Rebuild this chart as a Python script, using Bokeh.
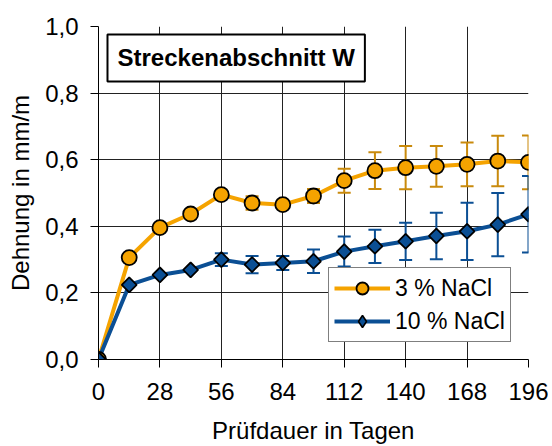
import math
from bokeh.plotting import figure
from bokeh.models import (ColumnDataSource, FixedTicker, CustomJSTickFormatter, Legend, LegendItem,
                          Label, Range1d)
from bokeh.embed import file_html
from bokeh.resources import INLINE

days = [0, 14, 28, 42, 56, 70, 84, 98, 112, 126, 140, 154, 168, 182, 196]
nacl3 = [0.0, 0.306, 0.396, 0.437, 0.495, 0.470, 0.465, 0.491, 0.537, 0.567, 0.576, 0.580, 0.586, 0.596, 0.592]
nacl3_err = [0.0, 0.0, 0.0, 0.0, 0.006, 0.020, 0.010, 0.021, 0.036, 0.055, 0.065, 0.061, 0.066, 0.076, 0.081]
nacl10 = [0.0, 0.224, 0.254, 0.269, 0.300, 0.285, 0.290, 0.295, 0.324, 0.340, 0.355, 0.371, 0.385, 0.405, 0.436]
nacl10_err = [0.0, 0.0, 0.0, 0.0, 0.019, 0.026, 0.021, 0.035, 0.045, 0.050, 0.056, 0.070, 0.086, 0.095, 0.115]
x_ticks = [0, 28, 56, 84, 112, 140, 168, 196]
y_ticks = [0.0, 0.2, 0.4, 0.6, 0.8, 1.0]

ORANGE = "#F5A300"
ORANGE_ERR = "#C98A0C"
BLUE = "#0B4F94"
FONT = "Liberation Sans"

p = figure(width=548, height=446, output_backend="svg", toolbar_location=None,
           x_range=Range1d(0, 196), y_range=Range1d(0, 1.0),
           min_border_left=98, min_border_right=20, min_border_top=26, min_border_bottom=84)
p.outline_line_color = None
p.background_fill_color = "white"

for ax in (p.xaxis, p.yaxis):
    ax.axis_line_color = "black"
    ax.major_tick_line_color = "black"
    ax.major_tick_out = 8
    ax.major_tick_in = 0
    ax.minor_tick_out = 0
    ax.minor_tick_in = 0
    ax.major_label_text_font = FONT
    ax.major_label_text_font_size = "24px"
    ax.major_label_text_color = "black"
    ax.axis_label_text_font = FONT
    ax.axis_label_text_font_size = "24px"
    ax.axis_label_text_font_style = "normal"
    ax.axis_label_text_color = "black"

p.xaxis.ticker = FixedTicker(ticks=x_ticks)
p.yaxis.ticker = FixedTicker(ticks=y_ticks)
p.yaxis.formatter = CustomJSTickFormatter(code="return tick.toFixed(1).replace('.', ',');")
p.xaxis.axis_label = "Prüfdauer in Tagen"
p.yaxis.axis_label = "Dehnung in mm/m"
p.xaxis.major_label_standoff = 15
p.yaxis.major_label_standoff = 12
p.xaxis.axis_label_standoff = 14
p.yaxis.axis_label_standoff = 8

p.xgrid.grid_line_color = "#222222"
p.ygrid.grid_line_color = "#222222"
p.xgrid.grid_line_width = 1
p.ygrid.grid_line_width = 1

src3 = ColumnDataSource(dict(x=days, y=nacl3,
                             lo=[v - e for v, e in zip(nacl3, nacl3_err)],
                             hi=[v + e for v, e in zip(nacl3, nacl3_err)]))
src10 = ColumnDataSource(dict(x=days, y=nacl10,
                              lo=[v - e for v, e in zip(nacl10, nacl10_err)],
                              hi=[v + e for v, e in zip(nacl10, nacl10_err)]))

l3 = p.line("x", "y", source=src3, line_color=ORANGE, line_width=4)
l10 = p.line("x", "y", source=src10, line_color=BLUE, line_width=4)

for src, col in ((src3, ORANGE_ERR), (src10, BLUE)):
    p.segment(x0="x", y0="lo", x1="x", y1="hi", source=src, line_color=col, line_width=2)
    p.scatter("x", "lo", source=src, marker="dash", size=13, line_color=col, line_width=2)
    p.scatter("x", "hi", source=src, marker="dash", size=13, line_color=col, line_width=2)

m3 = p.scatter("x", "y", source=src3, marker="circle", size=15, fill_color=ORANGE,
               line_color="black", line_width=1.8)
# diamond glyph used for the legend symbol (legend ignores marker rotation);
# drawn beneath the rotated squares, which cover it completely
m10_leg = p.scatter("x", "y", source=src10, marker="diamond", size=11,
                    fill_color=BLUE, line_color="black", line_width=1.6)
m10 = p.scatter("x", "y", source=src10, marker="square", angle=math.pi / 4, size=10.5,
                fill_color=BLUE, line_color="black", line_width=1.8)

legend = Legend(items=[LegendItem(label="3 % NaCl", renderers=[l3, m3]),
                       LegendItem(label="10 % NaCl", renderers=[l10, m10_leg])],
                location=(230, 17), orientation="vertical")
legend.label_text_font = FONT
legend.label_text_font_size = "23px"
legend.label_text_color = "black"
legend.glyph_width = 56
legend.glyph_height = 30
legend.label_height = 30
legend.spacing = 3
legend.padding = 5
legend.margin = 0
legend.label_standoff = 5
legend.border_line_color = "black"
legend.border_line_width = 1
legend.background_fill_alpha = 1.0
p.add_layout(legend, "center")

title = Label(x=4.1, y=0.976, text="Streckenabschnitt W", text_font=FONT,
              text_font_size="24px", text_font_style="bold", text_color="black",
              anchor="top_left", text_align="left", text_baseline="top",
              border_line_color="black", border_line_width=2,
              background_fill_color="white", padding=10)
p.add_layout(title)

open("out.html", "w").write(file_html(p, INLINE))
